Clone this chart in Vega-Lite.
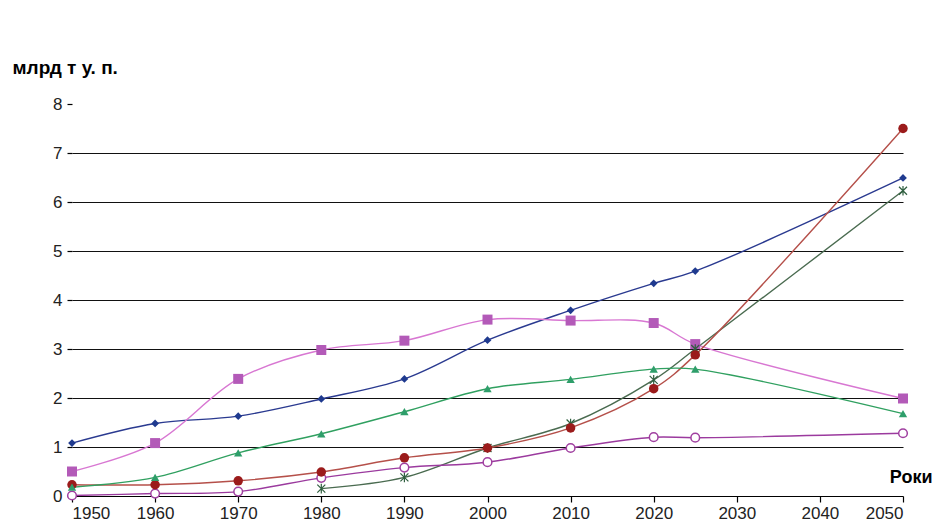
{
  "$schema": "https://vega.github.io/schema/vega-lite/v6.json",
  "autosize": {"type": "none"},
  "padding": {"left": 72, "top": 6, "right": 30, "bottom": 30},
  "width": 831,
  "height": 490,
  "background": "white",
  "config": {
    "font": "Liberation Sans",
    "view": {"stroke": null}
  },
  "data": {"values": [
    {"year": 1950, "series": "Вугілля і лігніт", "value": 1.08},
    {"year": 1960, "series": "Вугілля і лігніт", "value": 1.48},
    {"year": 1970, "series": "Вугілля і лігніт", "value": 1.63},
    {"year": 1980, "series": "Вугілля і лігніт", "value": 1.98},
    {"year": 1990, "series": "Вугілля і лігніт", "value": 2.39},
    {"year": 2000, "series": "Вугілля і лігніт", "value": 3.18},
    {"year": 2010, "series": "Вугілля і лігніт", "value": 3.79},
    {"year": 2020, "series": "Вугілля і лігніт", "value": 4.34},
    {"year": 2025, "series": "Вугілля і лігніт", "value": 4.59},
    {"year": 2050, "series": "Вугілля і лігніт", "value": 6.49},
    {"year": 1950, "series": "Нафта і конденсат", "value": 0.5},
    {"year": 1960, "series": "Нафта і конденсат", "value": 1.08},
    {"year": 1970, "series": "Нафта і конденсат", "value": 2.39},
    {"year": 1980, "series": "Нафта і конденсат", "value": 2.98},
    {"year": 1990, "series": "Нафта і конденсат", "value": 3.17},
    {"year": 2000, "series": "Нафта і конденсат", "value": 3.6},
    {"year": 2010, "series": "Нафта і конденсат", "value": 3.58},
    {"year": 2020, "series": "Нафта і конденсат", "value": 3.53},
    {"year": 2025, "series": "Нафта і конденсат", "value": 3.1},
    {"year": 2050, "series": "Нафта і конденсат", "value": 1.99},
    {"year": 1980, "series": "АЕС", "value": 0.15},
    {"year": 1990, "series": "АЕС", "value": 0.38},
    {"year": 2000, "series": "АЕС", "value": 0.98},
    {"year": 2010, "series": "АЕС", "value": 1.48},
    {"year": 2020, "series": "АЕС", "value": 2.37},
    {"year": 2025, "series": "АЕС", "value": 3.0},
    {"year": 2050, "series": "АЕС", "value": 6.23},
    {"year": 1950, "series": "ГЕС", "value": 0.01},
    {"year": 1960, "series": "ГЕС", "value": 0.05},
    {"year": 1970, "series": "ГЕС", "value": 0.09},
    {"year": 1980, "series": "ГЕС", "value": 0.37},
    {"year": 1990, "series": "ГЕС", "value": 0.58},
    {"year": 2000, "series": "ГЕС", "value": 0.69},
    {"year": 2010, "series": "ГЕС", "value": 0.98},
    {"year": 2020, "series": "ГЕС", "value": 1.2},
    {"year": 2025, "series": "ГЕС", "value": 1.19},
    {"year": 2050, "series": "ГЕС", "value": 1.28},
    {"year": 1950, "series": "Відновлювані джерела енергії", "value": 0.23},
    {"year": 1960, "series": "Відновлювані джерела енергії", "value": 0.23},
    {"year": 1970, "series": "Відновлювані джерела енергії", "value": 0.31},
    {"year": 1980, "series": "Відновлювані джерела енергії", "value": 0.49},
    {"year": 1990, "series": "Відновлювані джерела енергії", "value": 0.78},
    {"year": 2000, "series": "Відновлювані джерела енергії", "value": 0.98},
    {"year": 2010, "series": "Відновлювані джерела енергії", "value": 1.39},
    {"year": 2020, "series": "Відновлювані джерела енергії", "value": 2.19},
    {"year": 2025, "series": "Відновлювані джерела енергії", "value": 2.88},
    {"year": 2050, "series": "Відновлювані джерела енергії", "value": 7.5},
    {"year": 1950, "series": "Природний газ", "value": 0.18},
    {"year": 1960, "series": "Природний газ", "value": 0.38},
    {"year": 1970, "series": "Природний газ", "value": 0.88},
    {"year": 1980, "series": "Природний газ", "value": 1.27},
    {"year": 1990, "series": "Природний газ", "value": 1.72},
    {"year": 2000, "series": "Природний газ", "value": 2.19},
    {"year": 2010, "series": "Природний газ", "value": 2.38},
    {"year": 2020, "series": "Природний газ", "value": 2.59},
    {"year": 2025, "series": "Природний газ", "value": 2.59},
    {"year": 2050, "series": "Природний газ", "value": 1.68}
  ]},
  "encoding": {
    "x": {"field": "year", "type": "quantitative",
      "scale": {"domain": [1950, 2050], "nice": false, "zero": false},
      "axis": {"values": [1950, 1960, 1970, 1980, 1990, 2000, 2010, 2020, 2030, 2040, 2050], "format": "d", "grid": false, "tickSize": 6, "labelPadding": 3,
        "labelFont": "Liberation Sans", "labelFontSize": 17, "labelColor": "#222", "domainColor": "#000", "tickColor": "#000", "domainWidth": 1.2, "tickWidth": 1.2,
        "title": "Роки", "titleFont": "Liberation Sans", "titleFontSize": 18, "titleFontWeight": "bold", "titleColor": "#000", "titleAlign": "right", "titleBaseline": "middle", "titleX": 860, "titleY": -19}},
    "y": {"field": "value", "type": "quantitative",
      "scale": {"domain": [0, 10], "nice": false},
      "axis": {"values": [0, 1, 2, 3, 4, 5, 6, 7, 8], "domain": false, "grid": true, "gridColor": "#111", "gridWidth": 1.2,
        "gridOpacity": {"condition": {"test": "datum.value === 8 || datum.value === 0", "value": 0}, "value": 1},
        "tickSize": 5, "labelPadding": 5,
        "labelFont": "Liberation Sans", "labelFontSize": 17, "labelColor": "#222", "tickColor": "#000", "tickWidth": 1.2,
        "title": "млрд т у. п.", "titleFont": "Liberation Sans", "titleAngle": 0, "titleFontSize": 19, "titleFontWeight": "bold", "titleColor": "#000", "titleAlign": "left", "titleBaseline": "middle", "titleX": -60, "titleY": 61}}
  },
  "layer": [
    {
      "data": {"values": [{}]},
      "mark": {"type": "rule", "color": "#000", "strokeWidth": 1.2},
      "encoding": {"x": {"datum": 1950, "type": "quantitative"}, "y": {"datum": 0, "type": "quantitative"}, "y2": {"datum": 8}}
    },
    {
      "mark": {"type": "line", "interpolate": "catmull-rom", "strokeWidth": 1.4},
      "encoding": {
        "color": {"field": "series", "type": "nominal", "legend": null,
          "scale": {"domain": ["Вугілля і лігніт", "Нафта і конденсат", "АЕС", "ГЕС", "Відновлювані джерела енергії", "Природний газ"],
            "range": ["#2A3A90", "#D877D2", "#4A6B50", "#9B3A9E", "#B5504A", "#30A060"]}}
      }
    },
    {"transform": [{"filter": "datum.series === 'Вугілля і лігніт'"}], "mark": {"type": "point", "shape": "diamond", "filled": true, "fill": "#1F3A8F", "size": 60, "opacity": 1}},
    {"transform": [{"filter": "datum.series === 'Нафта і конденсат'"}], "mark": {"type": "point", "shape": "square", "filled": true, "fill": "#B35AB8", "size": 100, "opacity": 1}},
    {"transform": [{"filter": "datum.series === 'АЕС'"}], "mark": {"type": "point", "shape": "M-1,-1L1,1M-1,1L1,-1M0,-1.2V1.2", "filled": false, "stroke": "#2F5F3F", "strokeWidth": 1.2, "size": 64, "opacity": 1}},
    {"transform": [{"filter": "datum.series === 'ГЕС'"}], "mark": {"type": "point", "shape": "circle", "filled": true, "fill": "#ffffff", "stroke": "#A040A0", "strokeWidth": 1.5, "size": 75, "opacity": 1}},
    {"transform": [{"filter": "datum.series === 'Відновлювані джерела енергії'"}], "mark": {"type": "point", "shape": "circle", "filled": true, "fill": "#9B1B1B", "size": 90, "opacity": 1}},
    {"transform": [{"filter": "datum.series === 'Природний газ'"}], "mark": {"type": "point", "shape": "triangle-up", "filled": true, "fill": "#2E9E6A", "size": 70, "opacity": 1}},
    {
      "mark": {"type": "point", "filled": true, "opacity": 0, "strokeWidth": 1.3},
      "encoding": {
        "fill": {"field": "series", "type": "nominal", "legend": null,
          "scale": {"domain": ["Вугілля і лігніт", "Нафта і конденсат", "АЕС", "ГЕС", "Відновлювані джерела енергії", "Природний газ"],
            "range": ["#1F3A8F", "#B35AB8", "#2F5F3F", "#ffffff", "#9B1B1B", "#2E9E6A"]}},
        "stroke": {"field": "series", "type": "nominal", "legend": null,
          "scale": {"domain": ["Вугілля і лігніт", "Нафта і конденсат", "АЕС", "ГЕС", "Відновлювані джерела енергії", "Природний газ"],
            "range": ["#2A3A90", "#D877D2", "#4A6B50", "#9B3A9E", "#B5504A", "#30A060"]}},
        "shape": {"field": "series", "type": "nominal", "title": null,
          "scale": {"domain": ["Вугілля і лігніт", "Нафта і конденсат", "АЕС", "ГЕС", "Відновлювані джерела енергії", "Природний газ"],
            "range": [
              "M-0.6,0H0.48M0.94,0H1.97M0.71,-0.25L0.96,0L0.71,0.25L0.46,0Z",
              "M-0.6,0H0.48M0.94,0H1.97M0.48,-0.23H0.94V0.23H0.48Z",
              "M-0.6,0H1.97M0.49,-0.22L0.93,0.22M0.49,0.22L0.93,-0.22M0.71,-0.26V0.26",
              "M-0.6,0H0.47M0.95,0H1.97M0.95,0A0.24,0.24 0 1 1 0.47,0A0.24,0.24 0 1 1 0.95,0Z",
              "M-0.6,0H0.44M0.98,0H1.97M0.98,0A0.27,0.27 0 1 1 0.44,0A0.27,0.27 0 1 1 0.98,0Z",
              "M-0.6,0H0.46M0.96,0H1.97M0.71,-0.27L0.97,0.22H0.45Z"
            ]},
          "legend": {"symbolOpacity": 1, "orient": "none", "legendX": 294, "legendY": 3, "symbolSize": 1225, "labelOffset": 20, "strokeColor": "#000"}}
      }
    }
  ]
}
